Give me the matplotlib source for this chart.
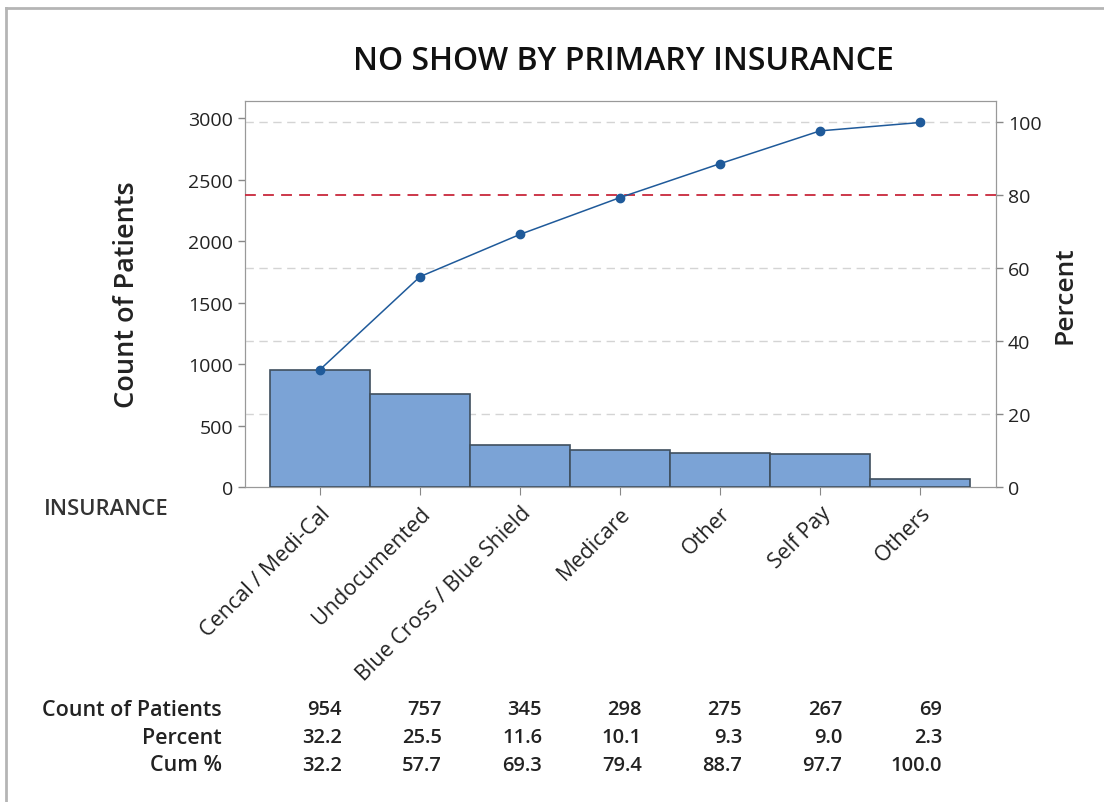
import matplotlib.pyplot as plt
import matplotlib.transforms as mtransforms
from matplotlib.lines import Line2D

# Data
categories = ["Cencal / Medi-Cal", "Undocumented", "Blue Cross / Blue Shield",
              "Medicare", "Other", "Self Pay", "Others"]
counts = [954, 757, 345, 298, 275, 267, 69]
percents = [32.2, 25.5, 11.6, 10.1, 9.3, 9.0, 2.3]
cum_pct = [32.2, 57.7, 69.3, 79.4, 88.7, 97.7, 100.0]

plt.rcParams['font.family'] = ['Open Sans', 'DejaVu Sans']
total = sum(counts)
x = list(range(len(categories)))

fig = plt.figure(figsize=(11.04, 8.03), dpi=100)
ax = fig.add_axes([0.2219, 0.3923, 0.6803, 0.4807])

# Bars
ax.bar(x, counts, width=1.0, color="#7BA3D6", edgecolor="#3F4F5F",
       linewidth=1.2, zorder=3)
ax.set_xlim(-0.75, 6.76)
ymax = 3140
ax.set_ylim(0, ymax)
ax.set_yticks([0, 500, 1000, 1500, 2000, 2500, 3000])
ax.tick_params(axis="y", labelsize=14, colors="#888888", labelcolor="#222222",
               length=5, width=1)
ax.set_xticks(x)
ax.set_xticklabels(categories, rotation=45, ha="right", rotation_mode="anchor",
                   fontsize=15.5, color="#222222")
ax.tick_params(axis="x", colors="#888888", labelcolor="#222222", length=6, pad=5)
ax.set_ylabel("Count of Patients", fontsize=19.5, fontweight="semibold",
              labelpad=34, color="#222222")
for s in ax.spines.values():
    s.set_color("#999999")

# Percent axis
ax2 = ax.twinx()
ax2.set_ylim(0, ymax / total * 100)
ax2.set_yticks([0, 20, 40, 60, 80, 100])
ax2.tick_params(axis="y", labelsize=14, colors="#888888", labelcolor="#222222",
                length=5, width=1)
ax2.set_ylabel("Percent", fontsize=19, fontweight="semibold", labelpad=8,
               color="#222222")
for s in ax2.spines.values():
    s.set_color("#999999")

# Gridlines at percent ticks
ax.set_zorder(ax2.get_zorder() + 1)
ax.patch.set_visible(False)
for p in [20, 40, 60, 100]:
    ax.axhline(p / 100 * total, color="#D4D4D4", linestyle=(0, (6, 4)),
               linewidth=1, zorder=1)
ax.axhline(0.8 * total, color="#C8283C", linestyle=(0, (6, 4)), linewidth=1.3,
           zorder=4)

# Cumulative line
ax.plot(x, [c / 100 * total for c in cum_pct], color="#1F5A9A", linewidth=1.1,
        marker="o", markersize=6, zorder=5)

fig.text(0.565, 0.923, "NO SHOW BY PRIMARY INSURANCE", ha="center", va="center",
         fontsize=23, fontweight="semibold", color="#111111")
fig.text(0.04, 0.366, "INSURANCE", ha="left", va="center", fontsize=15.8,
         fontweight="semibold", color="#333333")

# Table below
trans = mtransforms.blended_transform_factory(ax.transData, fig.transFigure)
rows = [("Count of Patients", [str(v) for v in counts], 0.1158),
        ("Percent", [f"{v:.1f}" for v in percents], 0.0809),
        ("Cum %", [f"{v:.1f}" for v in cum_pct], 0.0461)]
for label, vals, yy in rows:
    fig.text(0.201, yy, label, ha="right", va="center", fontsize=15.5,
             fontweight="semibold", color="#222222")
    for i, v in enumerate(vals):
        ax.text(i + 0.22, yy, v, transform=trans, ha="right", va="center",
                fontsize=14.5, fontweight="semibold", color="#222222")

# Outer border (left and top)
fig.add_artist(Line2D([6 / 1104, 6 / 1104], [0, 1 - 9 / 803],
                      transform=fig.transFigure, color="#B5B5B5", linewidth=2))
fig.add_artist(Line2D([6 / 1104, 1], [1 - 9 / 803, 1 - 9 / 803],
                      transform=fig.transFigure, color="#B5B5B5", linewidth=2))

fig.savefig("out.png", dpi=100)
